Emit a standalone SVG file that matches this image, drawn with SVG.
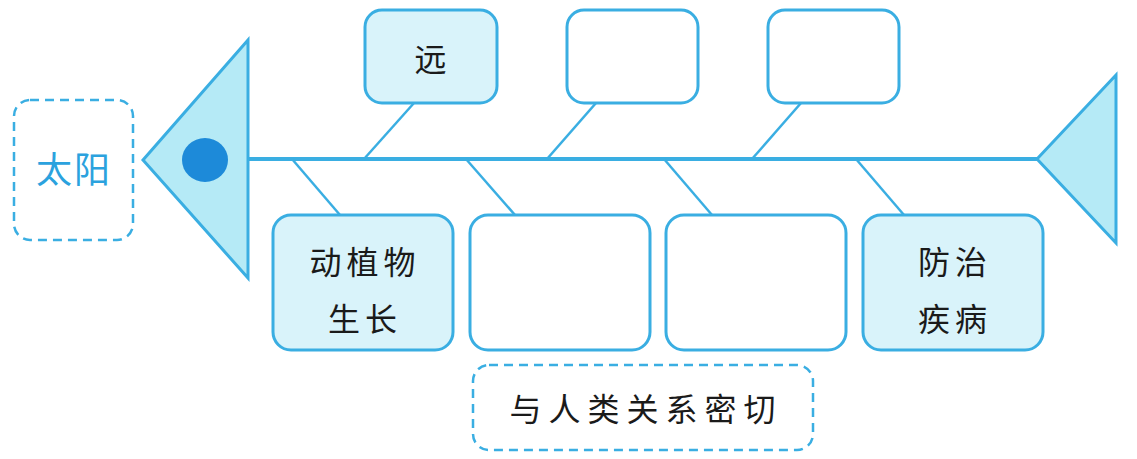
<svg xmlns="http://www.w3.org/2000/svg" width="1137" height="459" viewBox="0 0 1137 459">
<style>
.box{fill:#d9f3fa;stroke:#3aaee2;stroke-width:3}
.empty{fill:#ffffff;stroke:#3aaee2;stroke-width:3}
.dash{fill:#ffffff;stroke:#3aaee2;stroke-width:2.5;stroke-dasharray:9 6}
.tri{fill:#b5eaf6;stroke:#3aaee2;stroke-width:3;stroke-linejoin:miter}
.ln{stroke:#3aaee2;stroke-width:2.5;fill:none}
.t{font-family:"Noto Sans CJK SC","Noto Sans CJK TC",sans-serif;font-size:32px;fill:#1a1a1a;text-anchor:middle;letter-spacing:5px}
.tb{font-family:"Noto Sans CJK SC",sans-serif;font-size:36px;fill:#2ba2de;text-anchor:middle;letter-spacing:2px}
</style>
<rect width="1137" height="459" fill="#ffffff"/>
<g id="sun">
<rect class="dash" x="14" y="100" width="119" height="140" rx="16"/>
<text class="tb" x="74" y="183">太阳</text>
</g>
<g id="head">
<polygon class="tri" points="143,160 248,40 248,278"/>
<ellipse cx="205" cy="160" rx="23" ry="22" fill="#1d8ad9"/>
</g>
<g id="tail">
<polygon class="tri" points="1037,159 1116,75 1116,243"/>
</g>
<g id="connectors">
<line class="ln" x1="248" y1="159" x2="1037" y2="159" style="stroke-width:4"/>
<line class="ln" x1="414" y1="103" x2="364" y2="159"/>
<line class="ln" x1="596" y1="103" x2="547" y2="159"/>
<line class="ln" x1="801" y1="103" x2="752" y2="159"/>
<line class="ln" x1="292" y1="159" x2="340" y2="215"/>
<line class="ln" x1="466" y1="159" x2="515" y2="215"/>
<line class="ln" x1="664" y1="159" x2="712" y2="215"/>
<line class="ln" x1="856" y1="159" x2="904" y2="215"/>
</g>
<g id="top1">
<rect class="box" x="365" y="10" width="132" height="93" rx="17"/>
<text class="t" x="433" y="71">远</text>
</g>
<g id="top2">
<rect class="empty" x="567" y="10" width="131" height="93" rx="17"/>
</g>
<g id="top3">
<rect class="empty" x="768" y="10" width="131" height="93" rx="17"/>
</g>
<g id="bot1">
<rect class="box" x="273" y="215" width="180" height="135" rx="18"/>
<text class="t" x="365" y="274">动植物</text>
<text class="t" x="365" y="331">生长</text>
</g>
<g id="bot2">
<rect class="empty" x="470" y="215" width="180" height="135" rx="18"/>
</g>
<g id="bot3">
<rect class="empty" x="666" y="215" width="180" height="135" rx="18"/>
</g>
<g id="bot4">
<rect class="box" x="863" y="215" width="180" height="135" rx="18"/>
<text class="t" x="955" y="274">防治</text>
<text class="t" x="955" y="331">疾病</text>
</g>
<g id="summary">
<rect class="dash" x="473" y="365" width="340" height="85" rx="16"/>
<text class="t" x="646" y="421" style="letter-spacing:7px">与人类关系密切</text>
</g>
</svg>
